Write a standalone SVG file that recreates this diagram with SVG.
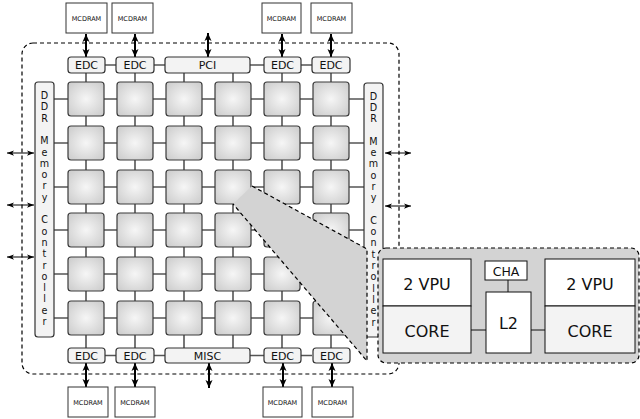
<svg xmlns="http://www.w3.org/2000/svg" width="640" height="419" viewBox="0 0 640 419">
<defs>
<radialGradient id="tg" cx="0.5" cy="0.5" r="0.6">
<stop offset="0" stop-color="#f6f6f6"/>
<stop offset="1" stop-color="#d0d0d0"/>
</radialGradient>
<marker id="ah" viewBox="0 0 8 8" refX="8" refY="4" markerWidth="8" markerHeight="8" markerUnits="userSpaceOnUse" orient="auto-start-reverse">
<path d="M0,0.5 L8,4 L0,7.5 L2,4 z" fill="#000"/>
</marker>
<marker id="ahs" viewBox="0 0 8 8" refX="8" refY="4" markerWidth="7" markerHeight="7" markerUnits="userSpaceOnUse" orient="auto-start-reverse">
<path d="M0,1 L8,4 L0,7 L2,4 z" fill="#000"/>
</marker>
</defs>
<style>
text{font-family:"DejaVu Sans","Liberation Sans",sans-serif;fill:#111}
.tile{fill:url(#tg);stroke:#3a3a3a;stroke-width:1.2}
.box{fill:#f3f3f3;stroke:#333;stroke-width:1.2}
.mc{fill:#fff;stroke:#333;stroke-width:1}
.mct{font-size:6.5px;text-anchor:middle}
.lbl{font-size:11px;text-anchor:middle}
.ddr{font-size:9.6px;text-anchor:middle}
.wire{stroke:#555;stroke-width:1.6;fill:none}
.dash{fill:none;stroke:#000;stroke-width:1.2;stroke-dasharray:4,3}
.arr{stroke:#000;stroke-width:2;fill:none;marker-start:url(#ah);marker-end:url(#ah)}
.arrs{stroke:#000;stroke-width:1;fill:none;marker-start:url(#ahs);marker-end:url(#ahs)}
.zb{stroke:#111;stroke-width:1}
.zt{font-size:16px;text-anchor:middle}
</style>

<!-- chip outline -->
<rect x="22" y="43" width="377" height="331" rx="11" class="dash"/>

<g id="connectors">
<path class="wire" d="M54,99H364M54,143H364M54,187H364M54,230H364M54,274H364M54,318H364"/>
<path class="wire" d="M86,73V348M135,73V348M184,73V348M233,73V348M282,73V348M331,73V348"/>
<path class="wire" d="M105,65H312M105,355.5H312"/>
<path class="arr" d="M86,34V57"/>
<path class="arr" d="M135,34V57"/>
<path class="arr" d="M208,33V57"/>
<path class="arr" d="M282,34V57"/>
<path class="arr" d="M331,34V57"/>
<path class="arr" d="M86,363V387"/>
<path class="arr" d="M135,363V387"/>
<path class="arr" d="M209,363V388"/>
<path class="arr" d="M283,363V387"/>
<path class="arr" d="M332,363V387"/>
<path class="arrs" d="M7,153H34"/>
<path class="arrs" d="M7,205H34"/>
<path class="arrs" d="M7,257H34"/>
<path class="arrs" d="M385,153H411"/>
<path class="arrs" d="M385,206H411"/>
</g>

<g id="mcdram-t1"><rect class="mc" x="66" y="3" width="41" height="30"/><text class="mct" x="86.5" y="20.5">MCDRAM</text></g>
<g id="mcdram-t2"><rect class="mc" x="112" y="3" width="41" height="30"/><text class="mct" x="132.5" y="20.5">MCDRAM</text></g>
<g id="mcdram-t3"><rect class="mc" x="262" y="3" width="39" height="30"/><text class="mct" x="281.5" y="20.5">MCDRAM</text></g>
<g id="mcdram-t4"><rect class="mc" x="311" y="3" width="41" height="30"/><text class="mct" x="331.5" y="20.5">MCDRAM</text></g>
<g id="mcdram-b1"><rect class="mc" x="68" y="387" width="40" height="30"/><text class="mct" x="88" y="404.5">MCDRAM</text></g>
<g id="mcdram-b2"><rect class="mc" x="115" y="387" width="40" height="30"/><text class="mct" x="135" y="404.5">MCDRAM</text></g>
<g id="mcdram-b3"><rect class="mc" x="263" y="387" width="39" height="30"/><text class="mct" x="282.5" y="404.5">MCDRAM</text></g>
<g id="mcdram-b4"><rect class="mc" x="312" y="387" width="41" height="30"/><text class="mct" x="332.5" y="404.5">MCDRAM</text></g>

<g id="edc-t1"><rect class="box" x="68" y="57" width="37" height="16" rx="3"/><text class="lbl" x="86.5" y="69">EDC</text></g>
<g id="edc-t2"><rect class="box" x="116" y="57" width="38" height="16" rx="3"/><text class="lbl" x="135" y="69">EDC</text></g>
<g id="pci"><rect class="box" x="165" y="57" width="85" height="16" rx="3"/><text class="lbl" x="207.5" y="69">PCI</text></g>
<g id="edc-t3"><rect class="box" x="264" y="57" width="37" height="16" rx="3"/><text class="lbl" x="282.5" y="69">EDC</text></g>
<g id="edc-t4"><rect class="box" x="312" y="57" width="38" height="16" rx="3"/><text class="lbl" x="331" y="69">EDC</text></g>
<g id="edc-b1"><rect class="box" x="68" y="348" width="37" height="15" rx="3"/><text class="lbl" x="86.5" y="359.5">EDC</text></g>
<g id="edc-b2"><rect class="box" x="116" y="348" width="38" height="15" rx="3"/><text class="lbl" x="135" y="359.5">EDC</text></g>
<g id="misc"><rect class="box" x="165" y="348" width="85" height="15" rx="3"/><text class="lbl" x="207.5" y="359.5">MISC</text></g>
<g id="edc-b3"><rect class="box" x="264" y="348" width="37" height="15" rx="3"/><text class="lbl" x="282.5" y="359.5">EDC</text></g>
<g id="edc-b4"><rect class="box" x="313" y="348" width="37" height="15" rx="3"/><text class="lbl" x="331.5" y="359.5">EDC</text></g>

<g id="ddr-left"><rect class="box" x="35" y="82" width="19" height="255" rx="3"/>
<text class="ddr"><tspan x="44.5" y="99">D</tspan><tspan x="44.5" y="110.3">D</tspan><tspan x="44.5" y="121.6">R</tspan><tspan x="44.5" y="144.2">M</tspan><tspan x="44.5" y="155.5">e</tspan><tspan x="44.5" y="166.8">m</tspan><tspan x="44.5" y="178.1">o</tspan><tspan x="44.5" y="189.4">r</tspan><tspan x="44.5" y="200.7">y</tspan><tspan x="44.5" y="223.3">C</tspan><tspan x="44.5" y="234.6">o</tspan><tspan x="44.5" y="245.9">n</tspan><tspan x="44.5" y="257.2">t</tspan><tspan x="44.5" y="268.5">r</tspan><tspan x="44.5" y="279.8">o</tspan><tspan x="44.5" y="291.1">l</tspan><tspan x="44.5" y="302.4">l</tspan><tspan x="44.5" y="313.7">e</tspan><tspan x="44.5" y="325">r</tspan></text></g>
<g id="ddr-right"><rect class="box" x="364" y="83" width="19" height="254" rx="3"/>
<text class="ddr"><tspan x="373.5" y="99.5">D</tspan><tspan x="373.5" y="110.8">D</tspan><tspan x="373.5" y="122.1">R</tspan><tspan x="373.5" y="144.7">M</tspan><tspan x="373.5" y="156">e</tspan><tspan x="373.5" y="167.3">m</tspan><tspan x="373.5" y="178.6">o</tspan><tspan x="373.5" y="189.9">r</tspan><tspan x="373.5" y="201.2">y</tspan><tspan x="373.5" y="223.8">C</tspan><tspan x="373.5" y="235.1">o</tspan><tspan x="373.5" y="246.4">n</tspan><tspan x="373.5" y="257.7">t</tspan><tspan x="373.5" y="269">r</tspan><tspan x="373.5" y="280.3">o</tspan><tspan x="373.5" y="291.6">l</tspan><tspan x="373.5" y="302.9">l</tspan><tspan x="373.5" y="314.2">e</tspan><tspan x="373.5" y="325.5">r</tspan></text></g>

<g id="tiles">
<rect class="tile" x="68" y="82" width="36" height="34" rx="3"/><rect class="tile" x="117" y="82" width="36" height="34" rx="3"/><rect class="tile" x="166" y="82" width="36" height="34" rx="3"/><rect class="tile" x="215" y="82" width="36" height="34" rx="3"/><rect class="tile" x="264" y="82" width="36" height="34" rx="3"/><rect class="tile" x="313" y="82" width="36" height="34" rx="3"/>
<rect class="tile" x="68" y="126" width="36" height="34" rx="3"/><rect class="tile" x="117" y="126" width="36" height="34" rx="3"/><rect class="tile" x="166" y="126" width="36" height="34" rx="3"/><rect class="tile" x="215" y="126" width="36" height="34" rx="3"/><rect class="tile" x="264" y="126" width="36" height="34" rx="3"/><rect class="tile" x="313" y="126" width="36" height="34" rx="3"/>
<rect class="tile" x="68" y="170" width="36" height="34" rx="3"/><rect class="tile" x="117" y="170" width="36" height="34" rx="3"/><rect class="tile" x="166" y="170" width="36" height="34" rx="3"/><rect class="tile" x="215" y="170" width="36" height="34" rx="3"/><rect class="tile" x="264" y="170" width="36" height="34" rx="3"/><rect class="tile" x="313" y="170" width="36" height="34" rx="3"/>
<rect class="tile" x="68" y="213" width="36" height="34" rx="3"/><rect class="tile" x="117" y="213" width="36" height="34" rx="3"/><rect class="tile" x="166" y="213" width="36" height="34" rx="3"/><rect class="tile" x="215" y="213" width="36" height="34" rx="3"/><rect class="tile" x="264" y="213" width="36" height="34" rx="3"/><rect class="tile" x="313" y="213" width="36" height="34" rx="3"/>
<rect class="tile" x="68" y="257" width="36" height="34" rx="3"/><rect class="tile" x="117" y="257" width="36" height="34" rx="3"/><rect class="tile" x="166" y="257" width="36" height="34" rx="3"/><rect class="tile" x="215" y="257" width="36" height="34" rx="3"/><rect class="tile" x="264" y="257" width="36" height="34" rx="3"/><rect class="tile" x="313" y="257" width="36" height="34" rx="3"/>
<rect class="tile" x="68" y="301" width="36" height="34" rx="3"/><rect class="tile" x="117" y="301" width="36" height="34" rx="3"/><rect class="tile" x="166" y="301" width="36" height="34" rx="3"/><rect class="tile" x="215" y="301" width="36" height="34" rx="3"/><rect class="tile" x="264" y="301" width="36" height="34" rx="3"/><rect class="tile" x="313" y="301" width="36" height="34" rx="3"/>
</g>

<g id="callout">
<polygon points="252,186 367,249 367,361 233,204" fill="#d3d3d3"/>
<path class="dash" d="M252,186L367,249V361L233,204"/>
</g>

<g id="tile-zoom">
<rect x="378" y="248" width="261" height="115" rx="8" fill="#d3d3d3" stroke="#000" stroke-width="1.2" stroke-dasharray="4,3"/>
<path class="zb" d="M471,330H486M531,330H545M508,280V292"/>
<rect class="zb" x="383" y="259" width="88" height="47" fill="#fff"/>
<rect class="zb" x="383" y="306" width="88" height="47" fill="#f3f3f3"/>
<text class="zt" x="427" y="290">2 VPU</text>
<text class="zt" x="427" y="337">CORE</text>
<rect class="zb" x="545" y="259" width="90" height="47" fill="#fff"/>
<rect class="zb" x="545" y="306" width="90" height="47" fill="#f3f3f3"/>
<text class="zt" x="590" y="290">2 VPU</text>
<text class="zt" x="590" y="337">CORE</text>
<rect class="zb" x="485" y="261" width="42" height="19" fill="#fff"/>
<text x="506" y="276" style="font-size:12.5px;text-anchor:middle">CHA</text>
<rect class="zb" x="486" y="292" width="45" height="61" fill="#fff"/>
<text class="zt" x="508.5" y="329">L2</text>
</g>
</svg>
